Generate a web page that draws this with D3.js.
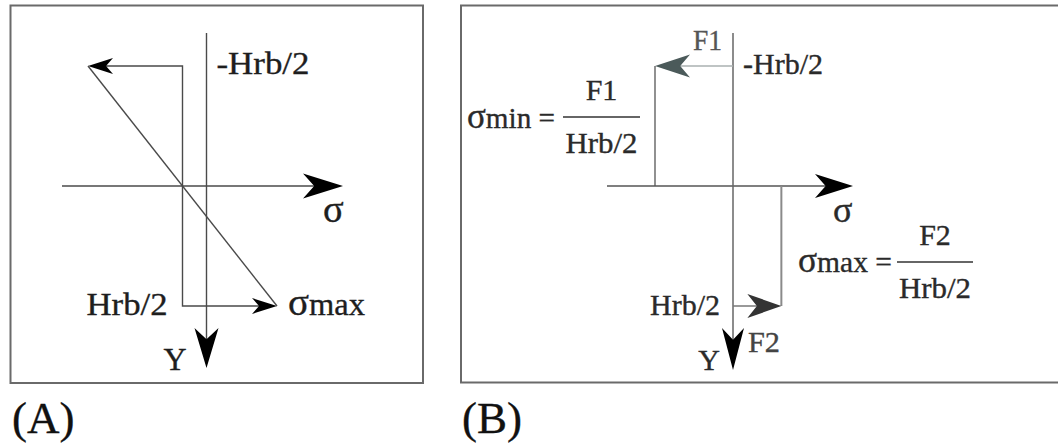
<!DOCTYPE html>
<html>
<head>
<meta charset="utf-8">
<script src="https://cdn.jsdelivr.net/npm/d3@7"></script>
<style>
  html, body { margin: 0; padding: 0; background: #fff; }
  svg { display: block; }
</style>
</head>
<body>
<svg id="chart" width="1058" height="445"></svg>
<script>
// ---------------- DATA ----------------
// depth levels (in units of Hrb/2) and their labels
const depthValues = [-1, 1];
const depthLabels = ["-Hrb/2", "Hrb/2"];
// Panel A: linear stress distribution, stress at top and bottom fibre
const stressA = [-1, 1];
const stressALabels = ["", "σmax"];
// Panel B: equivalent block (force couple) distribution: σmin and σmax
const stressB = [-1, 0.62];
const forceLabels = ["F1", "F2"];
const fractionLabels = [["σmin =", "F1", "Hrb/2"], ["σmax =", "F2", "Hrb/2"]];
const panelLabels = ["(A)", "(B)"];
const axisLabels = ["σ", "Y"];

// ---------------- LAYOUT ----------------
const FONT = "'Liberation Serif', 'DejaVu Serif', 'Times New Roman', Times, serif";
const svg = d3.select("#chart");
const y = d3.scaleLinear().domain([-1, 1]).range([66, 306]);
const xA = d3.scaleLinear().domain([-1, 1]).range([88, 277]);
const xB = d3.scaleLinear().domain([-1, 0]).range([655, 733]);

// stealth arrowhead: tip at (tx,ty), direction angle (deg), length L, half width W
function arrowHead(g, tx, ty, angle, L, W, fill) {
  const p = [[0, 0], [-L, -W], [-L * 0.72, 0], [-L, W]];
  g.append("path")
    .attr("d", d3.line()(p) + "Z")
    .attr("transform", `translate(${tx},${ty}) rotate(${angle})`)
    .attr("fill", fill);
}

function label(g, txt, x0, yb, size, opts = {}) {
  const fill = opts.fill || "#1e1e1e";
  const t = g.append("text")
    .attr("x", x0).attr("y", yb)
    .style("font-family", FONT)
    .attr("font-size", size)
    .attr("fill", fill)
    .attr("stroke", fill).attr("stroke-width", 0.35)
    .attr("text-anchor", opts.anchor || "start");
  // sigma glyph drawn slightly larger, as in the original (Symbol font)
  if (txt.startsWith("σ")) {
    t.append("tspan").attr("font-size", size * 1.2).text("σ");
    t.append("tspan").text(txt.slice(1));
  } else {
    t.text(txt);
  }
  if (opts.len) t.attr("textLength", opts.len).attr("lengthAdjust", "spacingAndGlyphs");
  return t;
}

// frames
svg.append("path").attr("d", "M10.5,383 V5.5 H423 V383 Z")
  .attr("fill", "none").attr("stroke", "#6a6a6a").attr("stroke-width", 2);
svg.append("path").attr("d", "M1060,5.5 H461 V382.5 H1060")
  .attr("fill", "none").attr("stroke", "#6a6a6a").attr("stroke-width", 2);

// ================= Panel A =================
const gA = svg.append("g");
const axisXA = xA(0) + 24;           // position of Y axis in panel A
const lineA = "#4a4a4a";
// sigma axis
gA.append("line").attr("x1", 62).attr("x2", 320).attr("y1", y(0)).attr("y2", y(0))
  .attr("stroke", lineA).attr("stroke-width", 1.4);
arrowHead(gA, 343, y(0), 0, 40, 12.5, "#000");
// Y axis
gA.append("line").attr("x1", axisXA).attr("x2", axisXA).attr("y1", 33).attr("y2", 345)
  .attr("stroke", lineA).attr("stroke-width", 1.4);
arrowHead(gA, axisXA, 368, 90, 40, 12, "#000");
// bracket: top arrow, vertical, bottom arrow
gA.append("path")
  .attr("d", `M${xA(-1) + 10},${y(-1)} H${xA(0)} V${y(1)} H${xA(1) - 10}`)
  .attr("fill", "none").attr("stroke", lineA).attr("stroke-width", 1.4);
arrowHead(gA, xA(-1), y(-1), 180, 25, 8, "#000");
arrowHead(gA, xA(1), y(1), 0, 25, 8, "#000");
// linear distribution
gA.append("line")
  .attr("x1", xA(stressA[0])).attr("y1", y(depthValues[0]))
  .attr("x2", xA(stressA[1])).attr("y2", y(depthValues[1]))
  .attr("stroke", lineA).attr("stroke-width", 1.4);
// labels
label(gA, depthLabels[0], axisXA + 10, y(-1) + 8, 32, { len: 93 });
label(gA, depthLabels[1], xA(0) - 15, y(1) + 9, 32, { anchor: "end", len: 81 });
label(gA, stressALabels[1], xA(1) + 11, y(1) + 9, 32, { len: 77 });
label(gA, axisLabels[0], 323, 222, 32);
label(gA, axisLabels[1], axisXA - 20, 370, 32, { anchor: "end" });
label(svg, panelLabels[0], 12, 433, 45, { fill: "#111" });

// ================= Panel B =================
const gB = svg.append("g");
const axisXB = xB(0);
// sigma axis
gB.append("line").attr("x1", 607).attr("x2", 830).attr("y1", y(0)).attr("y2", y(0))
  .attr("stroke", "#555").attr("stroke-width", 1.4);
arrowHead(gB, 853, y(0), 0, 38, 12, "#000");
// Y axis
gB.append("line").attr("x1", axisXB).attr("x2", axisXB).attr("y1", 33).attr("y2", 350)
  .attr("stroke", "#666").attr("stroke-width", 1.5);
arrowHead(gB, axisXB, 370, 90, 42, 11, "#000");
// compression block (top)
gB.append("line").attr("x1", axisXB).attr("x2", xB(stressB[0]) + 20)
  .attr("y1", y(-1)).attr("y2", y(-1)).attr("stroke", "#aab0b0").attr("stroke-width", 1.5);
gB.append("line").attr("x1", xB(stressB[0])).attr("x2", xB(stressB[0]))
  .attr("y1", y(-1)).attr("y2", y(0)).attr("stroke", "#555").attr("stroke-width", 1.3);
arrowHead(gB, xB(stressB[0]), y(-1), 180, 35, 11.5, "#4b5a5a");
// tension block (bottom)
gB.append("line").attr("x1", xB(stressB[1])).attr("x2", xB(stressB[1]))
  .attr("y1", y(0)).attr("y2", y(1)).attr("stroke", "#8a8a8a").attr("stroke-width", 2);
gB.append("line").attr("x1", axisXB).attr("x2", xB(stressB[1]) - 20)
  .attr("y1", y(1)).attr("y2", y(1)).attr("stroke", "#777").attr("stroke-width", 1.5);
arrowHead(gB, xB(stressB[1]), y(1), 0, 34, 12, "#333");
// labels
const tB = "#2a2a2a";
label(gB, forceLabels[0], 693, 50, 30, { fill: "#555", len: 29 });
label(gB, depthLabels[0], axisXB + 10, y(-1) + 8, 30, { fill: tB, len: 80 });
label(gB, depthLabels[1], axisXB - 13, y(1) + 9, 30, { fill: tB, anchor: "end", len: 70 });
label(gB, forceLabels[1], 748, 352, 30, { fill: "#444", len: 32 });
label(gB, axisLabels[0], 833, 222, 30, { fill: tB });
label(gB, axisLabels[1], axisXB - 13, 370, 30, { fill: tB, anchor: "end" });

// fractions
const fracPos = [
  { x: 467, base: 128, lineX1: 563, lineX2: 640, lineY: 117 },
  { x: 798, base: 272, lineX1: 897, lineX2: 973, lineY: 262 }
];
fractionLabels.forEach((f, i) => {
  const p = fracPos[i];
  label(gB, f[0], p.x, p.base, 30, { fill: tB, len: (i === 0 ? 88 : 94) });
  gB.append("line").attr("x1", p.lineX1).attr("x2", p.lineX2)
    .attr("y1", p.lineY).attr("y2", p.lineY).attr("stroke", "#333").attr("stroke-width", 1.6);
  const cx = (p.lineX1 + p.lineX2) / 2;
  label(gB, f[1], cx, p.lineY - 17, 30, { fill: tB, anchor: "middle" });
  label(gB, f[2], cx, p.lineY + 36, 30, { fill: tB, anchor: "middle", len: 72 });
});
label(svg, panelLabels[1], 462, 433, 45, { fill: "#111" });
</script>
</body>
</html>
